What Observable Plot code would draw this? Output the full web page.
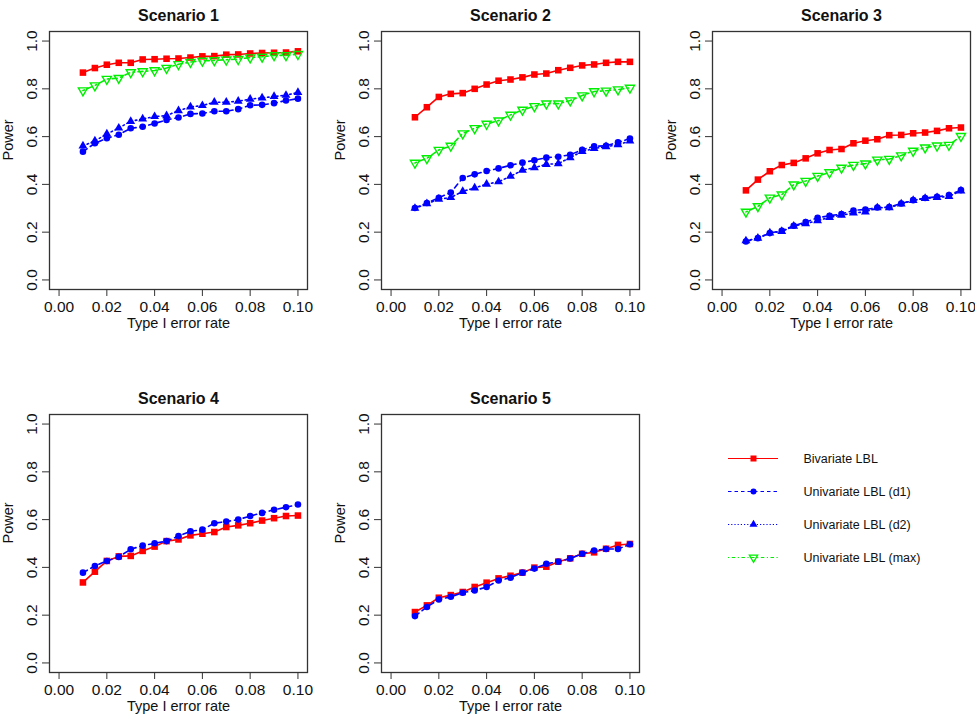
<!DOCTYPE html>
<html><head><meta charset="utf-8">
<script src="https://cdn.jsdelivr.net/npm/d3@7"></script>
<script src="https://cdn.jsdelivr.net/npm/@observablehq/plot@0.6"></script>
<style>
body{margin:0;background:#fff;}
#root{position:relative;width:975px;height:722px;overflow:hidden;background:#fff;}
.panel{position:absolute;}
.panel svg{overflow:visible;max-width:none !important;display:block;}
</style></head><body><div id="root"></div>
<script>
// ---- data ----
const alpha = [0.01,0.015,0.02,0.025,0.03,0.035,0.04,0.045,0.05,0.055,0.06,0.065,0.07,0.075,0.08,0.085,0.09,0.095,0.1];
const xTicks = [0,0.02,0.04,0.06,0.08,0.10];
const yTicks = [0,0.2,0.4,0.6,0.8,1.0];
const seriesNames = ["Bivariate LBL","Univariate LBL (d1)","Univariate LBL (d2)","Univariate LBL (max)"];
const scenarioTitles = ["Scenario 1","Scenario 2","Scenario 3","Scenario 4","Scenario 5"];

const s1Biv = [0.868,0.887,0.901,0.909,0.909,0.923,0.924,0.926,0.927,0.931,0.936,0.937,0.943,0.944,0.948,0.950,0.951,0.952,0.957];
const s1D1  = [0.537,0.572,0.593,0.608,0.635,0.641,0.655,0.670,0.680,0.695,0.697,0.706,0.706,0.715,0.731,0.733,0.740,0.751,0.759];
const s1D2  = [0.561,0.582,0.611,0.636,0.664,0.674,0.684,0.688,0.709,0.724,0.730,0.744,0.744,0.748,0.757,0.762,0.768,0.773,0.785];
const s1Max = [0.793,0.814,0.841,0.845,0.869,0.873,0.877,0.887,0.903,0.912,0.917,0.919,0.922,0.924,0.931,0.934,0.940,0.940,0.945];

const s2Biv = [0.681,0.723,0.766,0.779,0.782,0.800,0.818,0.834,0.839,0.848,0.860,0.864,0.878,0.888,0.898,0.902,0.909,0.913,0.913];
const s2D1  = [0.301,0.322,0.344,0.366,0.427,0.442,0.456,0.467,0.480,0.491,0.501,0.512,0.516,0.524,0.545,0.559,0.562,0.576,0.592];
const s2D2  = [0.300,0.319,0.338,0.345,0.371,0.385,0.401,0.411,0.434,0.459,0.470,0.484,0.487,0.512,0.538,0.550,0.558,0.566,0.582];
const s2Max = [0.490,0.509,0.544,0.561,0.613,0.635,0.653,0.667,0.691,0.712,0.727,0.738,0.738,0.751,0.772,0.789,0.792,0.797,0.804];

const s3Biv = [0.375,0.420,0.455,0.481,0.490,0.509,0.530,0.544,0.548,0.572,0.583,0.589,0.606,0.607,0.614,0.617,0.624,0.635,0.638];
const s3D1  = [0.161,0.175,0.196,0.206,0.227,0.242,0.260,0.269,0.276,0.291,0.295,0.303,0.305,0.320,0.334,0.343,0.348,0.355,0.376];
const s3D2  = [0.164,0.175,0.197,0.203,0.225,0.236,0.248,0.262,0.271,0.280,0.285,0.302,0.303,0.318,0.333,0.341,0.345,0.350,0.373];
const s3Max = [0.285,0.308,0.344,0.357,0.399,0.414,0.435,0.450,0.469,0.481,0.487,0.503,0.506,0.521,0.540,0.554,0.562,0.565,0.602];

const s4Biv = [0.337,0.382,0.427,0.446,0.448,0.469,0.487,0.510,0.517,0.534,0.541,0.548,0.569,0.576,0.585,0.596,0.606,0.615,0.617];
const s4D1  = [0.378,0.406,0.427,0.444,0.476,0.491,0.501,0.510,0.531,0.551,0.558,0.585,0.592,0.600,0.615,0.628,0.641,0.652,0.663];

const s5Biv = [0.213,0.241,0.273,0.284,0.297,0.318,0.336,0.354,0.365,0.378,0.399,0.403,0.424,0.438,0.457,0.463,0.478,0.494,0.498];
const s5D1  = [0.196,0.234,0.266,0.277,0.294,0.303,0.318,0.345,0.357,0.378,0.395,0.415,0.424,0.437,0.457,0.471,0.477,0.477,0.497];

// ---- styles ----
const triangleDown = {
  draw(context, size) {
    const y = -Math.sqrt(size / (Math.sqrt(3) * 3));
    context.moveTo(0, -y * 2);
    context.lineTo(-Math.sqrt(3) * y, y);
    context.lineTo(Math.sqrt(3) * y, y);
    context.closePath();
  }
};
const styles = {
  "Bivariate LBL":        {color: "#ff0000", dash: null,            ldash: null,            symbol: "square",     r: 3.7, fill: true},
  "Univariate LBL (d1)":  {color: "#0000ff", dash: "5,4",           ldash: "3.5,3",         symbol: "circle",     r: 3.3, fill: true},
  "Univariate LBL (d2)":  {color: "#0000ff", dash: "1.5,3",         ldash: "1.2,2",         symbol: "triangle",   r: 3.3, fill: true},
  "Univariate LBL (max)": {color: "#00ee00", dash: "1.5,3.5,5,3.5", ldash: "1.2,2.5,3.5,2.5", symbol: triangleDown, r: 3.4, fill: false}
};

const scenarios = [
  {title: scenarioTitles[0], series: [[seriesNames[0], s1Biv],[seriesNames[1], s1D1],[seriesNames[2], s1D2],[seriesNames[3], s1Max]], left: 0,   top: 0},
  {title: scenarioTitles[1], series: [[seriesNames[0], s2Biv],[seriesNames[1], s2D1],[seriesNames[2], s2D2],[seriesNames[3], s2Max]], left: 332, top: 0},
  {title: scenarioTitles[2], series: [[seriesNames[0], s3Biv],[seriesNames[1], s3D1],[seriesNames[2], s3D2],[seriesNames[3], s3Max]], left: 663, top: 0},
  {title: scenarioTitles[3], series: [[seriesNames[0], s4Biv],[seriesNames[1], s4D1]], left: 0,   top: 383},
  {title: scenarioTitles[4], series: [[seriesNames[0], s5Biv],[seriesNames[1], s5D1]], left: 332, top: 383}
];

const FONT = '"Liberation Sans", Arial, Helvetica, sans-serif';
const root = document.getElementById("root");
const PW = 317, PH = 345;

function panel(sc) {
  const marks = [];
  for (const [name, values] of sc.series) {
    const st = styles[name];
    const data = alpha.map((a, i) => ({alpha: a, power: values[i]}));
    marks.push(Plot.line(data, {x: "alpha", y: "power", stroke: st.color, strokeWidth: 1.6,
      strokeDasharray: st.dash || undefined}));
    marks.push(Plot.dot(data, {x: "alpha", y: "power", symbol: st.symbol, r: st.r,
      fill: st.fill ? st.color : "none", stroke: st.fill ? "none" : st.color, strokeWidth: 1.4}));
  }
  marks.push(
    Plot.frame({stroke: "#333", strokeWidth: 1.3}),
    Plot.axisX({ticks: xTicks, tickSize: 7, tickPadding: 4, tickFormat: d3.format(".2f"), label: null, stroke: "#333"}),
    Plot.axisY({ticks: yTicks, tickSize: 7, tickPadding: 6, tickFormat: d3.format(".1f"), tickRotate: -90, label: null, stroke: "#333"}),
    Plot.text([sc.title], {frameAnchor: "top", dy: -22, fontWeight: "bold", fontSize: 16}),
    Plot.text(["Type I error rate"], {frameAnchor: "bottom", dy: 38, fontSize: 14.5}),
    Plot.text(["Power"], {frameAnchor: "left", dx: -41, rotate: -90, fontSize: 14.5})
  );
  const p = Plot.plot({
    width: PW, height: PH,
    marginLeft: 49, marginRight: 10, marginTop: 31, marginBottom: 56,
    x: {domain: [-0.004, 0.104]},
    y: {domain: [-0.04, 1.04]},
    style: {fontFamily: FONT, fontSize: "15.5px", color: "#111", background: "transparent", overflow: "visible", maxWidth: "none"},
    marks
  });
  const div = document.createElement("div");
  div.className = "panel";
  div.style.left = sc.left + "px";
  div.style.top = sc.top + "px";
  div.style.width = PW + "px";
  div.style.height = PH + "px";
  div.appendChild(p);
  root.appendChild(div);
}
scenarios.forEach(panel);

// ---- legend ----
const legendMarks = [];
for (const name of seriesNames) {
  const st = styles[name];
  legendMarks.push(
    Plot.ruleY([name], {y: d => d, stroke: st.color, strokeWidth: 1.2, strokeDasharray: st.ldash || undefined}),
    Plot.dot([name], {y: d => d, frameAnchor: "middle", symbol: st.symbol, r: st.r - 0.3,
      fill: st.fill ? st.color : "none", stroke: st.fill ? "none" : st.color, strokeWidth: 1.3}),
    Plot.text([name], {y: d => d, frameAnchor: "right", dx: 25, textAnchor: "start", fontSize: 12.5, fill: "#111"})
  );
}
const legend = Plot.plot({
  width: 285, height: 140,
  marginLeft: 38, marginRight: 197, marginTop: 28, marginBottom: 13,
  y: {type: "point", domain: seriesNames, padding: 0, axis: null},
  style: {fontFamily: FONT, background: "transparent", overflow: "visible", maxWidth: "none"},
  marks: legendMarks
});
const ldiv = document.createElement("div");
ldiv.className = "panel";
ldiv.style.left = "690px";
ldiv.style.top = "430px";
ldiv.style.width = "285px";
ldiv.style.height = "140px";
ldiv.appendChild(legend);
root.appendChild(ldiv);
</script>
</body></html>
